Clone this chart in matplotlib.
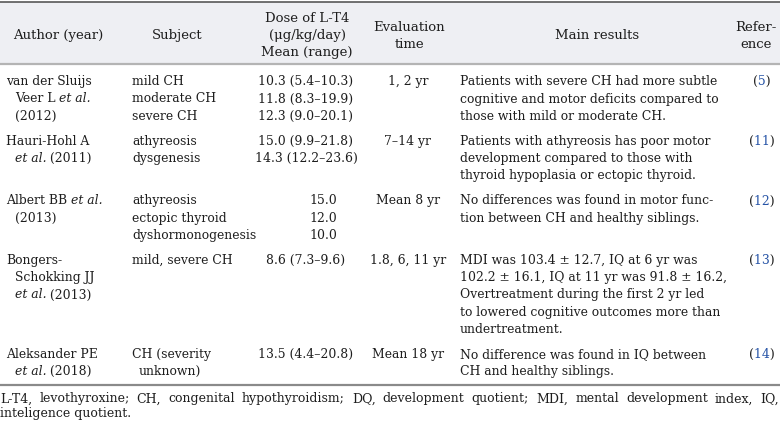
import matplotlib
matplotlib.use("Agg")
import matplotlib.pyplot as plt
from matplotlib.patches import Rectangle
from matplotlib.transforms import Bbox

# table content (line breaks as in the original, *...* = italic,
# "\n" = wrapped continuation of one entry)
authors = [
    "van der Sluijs\nVeer L *et al.*\n(2012)",
    "Hauri-Hohl A\n*et al.* (2011)",
    "Albert BB *et al.*\n(2013)",
    "Bongers-\nSchokking JJ\n*et al.* (2013)",
    "Aleksander PE\n*et al.* (2018)",
]
subjects = [
    ["mild CH", "moderate CH", "severe CH"],
    ["athyreosis", "dysgenesis"],
    ["athyreosis", "ectopic thyroid", "dyshormonogenesis"],
    ["mild, severe CH"],
    ["CH (severity\nunknown)"],
]
doses = [
    ["10.3 (5.4\u201310.3)", "11.8 (8.3\u201319.9)", "12.3 (9.0\u201320.1)"],
    ["15.0 (9.9\u201321.8)", "14.3 (12.2\u201323.6)"],
    ["15.0", "12.0", "10.0"],
    ["8.6 (7.3\u20139.6)"],
    ["13.5 (4.4\u201320.8)"],
]
eval_time = ["1, 2 yr", "7\u201314 yr", "Mean 8 yr", "1.8, 6, 11 yr", "Mean 18 yr"]
results = [
    ["Patients with severe CH had more subtle",
     "cognitive and motor deficits compared to",
     "those with mild or moderate CH."],
    ["Patients with athyreosis has poor motor",
     "development compared to those with",
     "thyroid hypoplasia or ectopic thyroid."],
    ["No differences was found in motor func-",
     "tion between CH and healthy siblings."],
    ["MDI was 103.4 \u00b1 12.7, IQ at 6 yr was",
     "102.2 \u00b1 16.1, IQ at 11 yr was 91.8 \u00b1 16.2,",
     "Overtreatment during the first 2 yr led",
     "to lowered cognitive outcomes more than",
     "undertreatment."],
    ["No difference was found in IQ between",
     "CH and healthy siblings."],
]
refs = ["5", "11", "12", "13", "14"]
footnote = [
    "L-T4, levothyroxine; CH, congenital hypothyroidism; DQ, development quotient; "
    "MDI, mental development index, IQ,",
    "inteligence quotient.",
]

FONT = "DejaVu Serif"
FS = 8.9
FS_HEAD = 9.5
FS_NOTE = 9.0
INK = "#1e1e1e"
BLUE = "#2553a6"
W, H = 780, 427
LINE = 17.2
GAP = 8

fig = plt.figure(figsize=(7.8, 4.27), dpi=100)
ax = fig.add_axes([0, 0, 1, 1])
ax.set_xlim(0, W)
ax.set_ylim(H, 0)
ax.axis("off")
renderer = fig.canvas.get_renderer()


def width(s, it=False, size=FS):
    t = ax.text(0, 0, s, family=FONT, size=size,
                fontstyle="italic" if it else "normal")
    w = t.get_window_extent(renderer).width
    t.remove()
    return w


def put(x, y, runs, ha="left", size=FS):
    # runs: list of (text, italic, color); y is the visual centre of the line
    runs = [r for r in runs if r[0]]
    total = sum(width(r[0], r[1], size) for r in runs)
    x0 = {"left": x, "center": x - total / 2, "right": x - total}[ha]
    for txt, it, col in runs:
        ax.text(x0, y + 4.3, txt, family=FONT, size=size, color=col,
                fontstyle="italic" if it else "normal", va="baseline", ha="left")
        x0 += width(txt, it, size)


def put_str(x, y, s, ha="left", col=INK, size=FS):
    parts = s.split("*")
    put(x, y, [(p, i % 2 == 1, col) for i, p in enumerate(parts)], ha, size)


def put_entry(x, y, s, indent):
    # one entry, wrapped lines get a hanging indent; returns lines used
    lines = s.split("\n")
    for k, ln in enumerate(lines):
        put_str(x if k == 0 else x + indent, y + k * LINE, ln)
    return len(lines)


def put_ref(x, y, num):
    # "(n)" with black brackets and a blue number, drawn as one string
    s = "(" + num + ")"
    base = ax.text(x, y + 4.3, s, family=FONT, size=FS, va="baseline", ha="center")
    bb = base.get_window_extent(renderer)
    base.remove()
    wl, wr = width("("), width(")")
    cut1, cut2 = bb.x0 + wl + 0.4, bb.x1 - wr - 0.4
    for lo, hi, col in [(bb.x0 - 2, cut1, INK), (cut1, cut2, BLUE), (cut2, bb.x1 + 2, INK)]:
        t = ax.text(x, y + 4.3, s, family=FONT, size=FS, color=col,
                    va="baseline", ha="center")
        t.set_clip_box(Bbox([[lo, bb.y0 - 3], [hi, bb.y1 + 3]]))
        t.set_clip_on(True)


# header
ax.add_patch(Rectangle((0, 3), W, 62, color="#eeeff3", lw=0))
ax.plot([0, W], [3, 3], color="#4a4a4a", lw=1.1)
ax.plot([0, W], [65, 65], color="#b4b4b4", lw=1.6)
put_str(58, 35, "Author (year)", "center", size=FS_HEAD)
put_str(177, 35, "Subject", "center", size=FS_HEAD)
for y, s in zip([18, 35, 52], ["Dose of L-T4", "(\u03bcg/kg/day)", "Mean (range)"]):
    put_str(307, y, s, "center", size=FS_HEAD)
put_str(409, 27, "Evaluation", "center", size=FS_HEAD)
put_str(409, 44, "time", "center", size=FS_HEAD)
put_str(597, 35, "Main results", "center", size=FS_HEAD)
put_str(777, 27, "Refer-", "right", size=FS_HEAD)
put_str(772, 44, "ence", "right", size=FS_HEAD)

# body
y = 81
for i in range(len(authors)):
    n_auth = put_entry(6, y, authors[i], 9)
    n_subj = 0
    for s in subjects[i]:
        n_subj += put_entry(132, y + n_subj * LINE, s, 7)
    for k, s in enumerate(doses[i]):
        put_str(306 if "(" in s else 323, y + k * LINE, s, "center")
    put_str(408, y, eval_time[i], "center")
    for k, s in enumerate(results[i]):
        put_str(460, y + k * LINE, s)
    put_ref(762, y, refs[i])
    n = max(n_auth, n_subj, len(doses[i]), len(results[i]))
    y += n * LINE + GAP

ax.plot([0, W], [386, 386], color="#8a8a8a", lw=1.6)

# footnote, first line justified to the full width
words = footnote[0].split(" ")
ws = [width(wd, size=FS_NOTE) for wd in words]
space = (W - 1 - sum(ws)) / (len(words) - 1)
x = 0
for wd, w in zip(words, ws):
    ax.text(x, 398 + 4.4, wd, family=FONT, size=FS_NOTE, color=INK,
            va="baseline", ha="left")
    x += w + space
put(0, 413, [(footnote[1], False, INK)], size=FS_NOTE)

fig.savefig("out.png", dpi=100)
